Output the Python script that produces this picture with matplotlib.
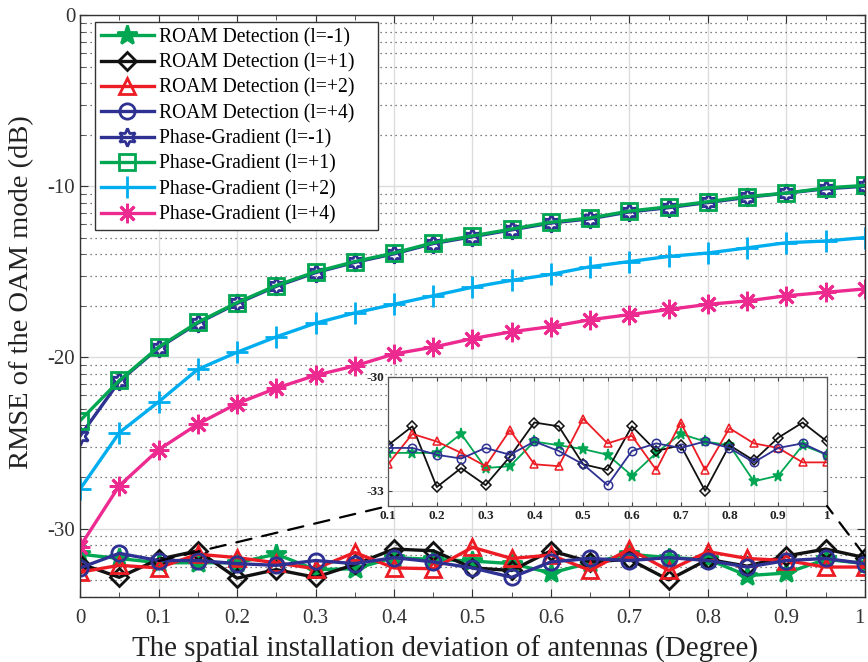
import numpy as np
import matplotlib
matplotlib.use('Agg')
import matplotlib.pyplot as plt
import matplotlib.ticker as ticker
import matplotlib.transforms as mtransforms
from matplotlib.patches import ConnectionPatch

plt.rcParams['font.family'] = ['Liberation Serif', 'DejaVu Serif']
plt.rcParams['mathtext.fontset'] = 'stix'

# deviation (degree)
x = np.round(np.arange(21) * 0.05, 2)

# RMSE in dB
roam_m1 = [-31.5, -31.75, -32.0, -32.0, -32.0, -31.5, -32.4, -32.35, -31.7, -31.8, -31.9,
           -32.05, -32.6, -32.0, -31.5, -31.7, -31.8, -32.75, -32.6, -31.8, -32.05]
roam_p1 = [-32.05, -32.85, -31.8, -31.3, -32.9, -32.4, -32.85, -32.1, -31.2, -31.3, -32.3,
           -32.45, -31.3, -31.95, -31.8, -33.0, -31.8, -32.2, -31.6, -31.2, -31.7]
roam_p2 = [-32.55, -32.15, -32.3, -31.5, -31.7, -32.0, -32.35, -31.4, -32.3, -32.35, -31.1,
           -31.75, -31.55, -32.45, -31.2, -32.45, -31.35, -31.75, -31.87, -32.25, -32.25]
roam_p4 = [-32.3, -31.45, -31.87, -31.87, -32.05, -32.15, -31.87, -32.05, -31.7, -31.95, -32.3,
           -32.85, -31.95, -31.75, -31.87, -31.7, -31.87, -32.25, -31.87, -31.75, -32.05]
pg_m1 = [-24.6, -21.4, -19.45, -18.0, -16.85, -15.85, -15.05, -14.45, -13.95, -13.35, -12.95,
         -12.55, -12.15, -11.9, -11.5, -11.25, -10.95, -10.65, -10.4, -10.15, -10.0]
pg_p1 = [-23.7, -21.35, -19.4, -17.95, -16.8, -15.8, -15.0, -14.4, -13.9, -13.3, -12.9,
         -12.5, -12.1, -11.85, -11.45, -11.2, -10.9, -10.6, -10.4, -10.1, -9.95]
pg_p2 = [-27.7, -24.4, -22.6, -20.7, -19.7, -18.8, -18.0, -17.4, -16.9, -16.4, -15.9,
         -15.5, -15.15, -14.7, -14.4, -14.1, -13.9, -13.6, -13.3, -13.2, -13.0]
pg_p4 = [-31.05, -27.5, -25.4, -23.9, -22.7, -21.8, -21.05, -20.5, -19.8, -19.4, -18.9,
         -18.5, -18.2, -17.8, -17.5, -17.2, -16.9, -16.7, -16.4, -16.2, -16.0]

labels = ['ROAM Detection (l=-1)', 'ROAM Detection (l=+1)', 'ROAM Detection (l=+2)',
          'ROAM Detection (l=+4)', 'Phase-Gradient (l=-1)', 'Phase-Gradient (l=+1)',
          'Phase-Gradient (l=+2)', 'Phase-Gradient (l=+4)']
series = [roam_m1, roam_p1, roam_p2, roam_p4, pg_m1, pg_p1, pg_p2, pg_p4]

green = '#00A651'
blue = '#2E3192'
styles = [
    dict(color=green, marker='*', mfc=green, ms=15),
    dict(color='#111111', marker='D', mfc='none', ms=9),
    dict(color='#ED1C24', marker='^', mfc='none', ms=11),
    dict(color=blue, marker='o', mfc='none', ms=11),
    dict(color=blue, marker=(6, 1, 0), mfc='none', ms=13),
    dict(color=green, marker='s', mfc='none', ms=11),
    dict(color='#00AEEF', marker='+', mfc='none', ms=16),
    dict(color='#EC2A90', marker=(8, 2, 0), mfc='none', ms=14),
]

# dashed zoom connectors (main data point -> inset corner)
conn_x = [0.1, 1.0]
conn_db = [-31.9, -31.6]


def to_lin(db):
    return 10 ** (np.asarray(db) / 10.0)


def db_fmt(v, pos):
    return f'{10 * np.log10(v):.0f}'


fig = plt.figure(figsize=(8.68, 6.62), dpi=100)
ax = fig.add_axes([0.0922, 0.0982, 0.9043, 0.879])

for y, lab, st in zip(series, labels, styles):
    ax.plot(x, to_lin(y), color=st['color'], marker=st['marker'], mfc=st['mfc'],
            mec=st['color'], ms=st['ms'], mew=2.0, lw=2.4, label=lab)

ax.set_yscale('log')
ax.set_xlim(0, 1)
ax.set_ylim(10 ** -3.4, 1)
ax.yaxis.set_major_locator(ticker.FixedLocator([1e-3, 1e-2, 1e-1, 1]))
ax.yaxis.set_major_formatter(ticker.FuncFormatter(db_fmt))
ax.yaxis.set_minor_locator(ticker.LogLocator(base=10, subs=np.arange(2, 10), numticks=20))
ax.yaxis.set_minor_formatter(ticker.NullFormatter())
ax.xaxis.set_major_locator(ticker.FixedLocator(np.round(np.arange(11) * 0.1, 1)))
ax.xaxis.set_minor_locator(ticker.MultipleLocator(0.05))
ax.xaxis.set_major_formatter(ticker.FuncFormatter(lambda v, p: f'{v:g}'))

ax.grid(which='major', color='#dcdcdc', lw=1.0, ls='-')
ax.grid(which='minor', axis='y', color='#555555', lw=0.9, ls=(0, (1, 3)))
ax.set_axisbelow(True)
ax.tick_params(which='both', direction='in', top=True, right=True, colors='#333333',
               labelcolor='#333333', labelsize=15)
ax.tick_params(which='major', length=6)
ax.tick_params(which='minor', length=3.5)
ax.tick_params(axis='x', pad=9)
for s in ax.spines.values():
    s.set_color('#333333')
    s.set_linewidth(1.0)

ax.set_xlabel('The spatial installation deviation of antennas (Degree)', fontsize=20.8,
              color='#222222')
ax.set_ylabel('RMSE of the OAM mode (dB)', fontsize=20.5, color='#222222')
ax.xaxis.set_label_coords(0.465, -0.066)
ax.yaxis.set_label_coords(-0.058, 0.524)

leg = ax.legend(loc='upper left', bbox_to_anchor=(0.019, 0.3, 0.3605, 0.688),
                mode='expand', fontsize=14.1,
                frameon=True, fancybox=False, edgecolor='#333333', framealpha=1,
                handlelength=2.7, handletextpad=0.26, labelspacing=0.31,
                borderpad=0.3, borderaxespad=0.0)
leg.get_frame().set_linewidth(1.0)

# inset zoom on the ROAM curves
axin = fig.add_axes([0.447, 0.2356, 0.5058, 0.195])
for y, st in zip(series[:4], styles[:4]):
    axin.plot(x[2:], to_lin(y[2:]), color=st['color'], marker=st['marker'], mfc=st['mfc'],
              mec=st['color'], ms=st['ms'] * 0.55, mew=1.1, lw=1.3)
axin.set_yscale('log')
axin.set_xlim(0.1, 1.0)
axin.set_ylim(10 ** -3.34, 10 ** -3.0)
axin.yaxis.set_major_locator(ticker.FixedLocator([10 ** -3.3, 1e-3]))
axin.yaxis.set_major_formatter(ticker.FuncFormatter(db_fmt))
axin.yaxis.set_minor_locator(ticker.NullLocator())
axin.xaxis.set_major_locator(ticker.MultipleLocator(0.1))
axin.xaxis.set_minor_locator(ticker.MultipleLocator(0.05))
axin.xaxis.set_major_formatter(ticker.FuncFormatter(lambda v, p: f'{v:g}'))
axin.grid(which='both', color='#e2e2e2', lw=0.8)
axin.tick_params(which='both', direction='in', top=True, right=True, labelsize=9.5,
                 colors='#444444', labelcolor='#222222', length=3, pad=3)
for t in axin.get_xticklabels() + axin.get_yticklabels():
    t.set_fontweight('bold')
for s in axin.spines.values():
    s.set_color('#555555')
    s.set_linewidth(0.9)

corner = [(0, 0), (1, 0)]
for cx, cdb, cc in zip(conn_x, conn_db, corner):
    con = ConnectionPatch(xyA=(cx, to_lin(cdb)), coordsA=ax.transData,
                          xyB=cc, coordsB=axin.transAxes,
                          color='black', lw=1.6, ls=(0, (7, 5)), zorder=5)
    fig.add_artist(con)

# keep the "1" at the right edge inside the figure
last = ax.xaxis.get_major_ticks()[10].label1
last.set_transform(last.get_transform() +
                   mtransforms.ScaledTranslation(-4 / 72, 0, fig.dpi_scale_trans))

fig.savefig('out.png', dpi=100)
